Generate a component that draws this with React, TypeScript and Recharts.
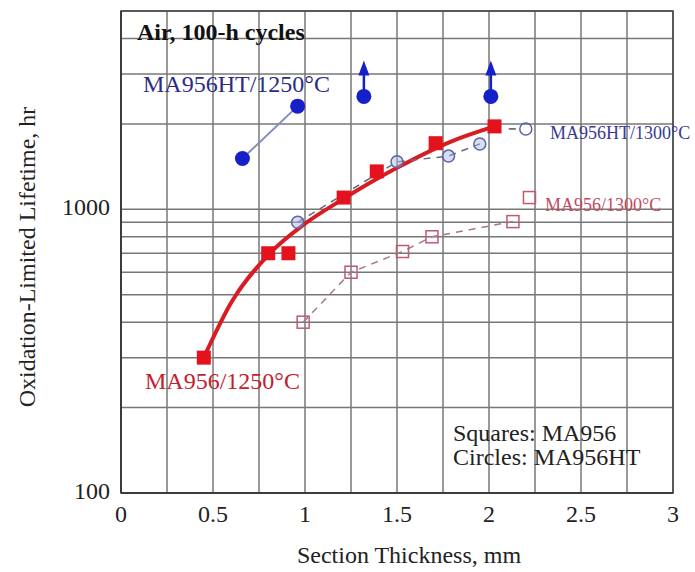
import React from "react";
import { ComposedChart, Scatter, Line, XAxis, YAxis, CartesianGrid, ReferenceArea } from "recharts";

// MA956 at 1250°C (filled squares) and its fitted curve
const ma956At1250X = [0.45, 0.8, 0.91, 1.21, 1.39, 1.71, 2.03];
const ma956At1250Y = [300, 700, 700, 1100, 1360, 1710, 1960];
const fitX = [0.45, 0.6, 0.8, 1.0, 1.2, 1.5, 1.8, 2.03];
const fitY = [300, 470, 690, 890, 1080, 1400, 1740, 1960];

// MA956HT at 1250°C (filled circles); arrows = test still running
const ht1250X = [0.66, 0.96];
const ht1250Y = [1510, 2310];
const ht1250RunningX = [1.32, 2.01];
const ht1250RunningY = [2500, 2500];

// MA956HT at 1300°C (open circles)
const ht1300X = [0.96, 1.5, 1.78, 1.95];
const ht1300Y = [900, 1470, 1540, 1700];

// MA956 at 1300°C (open squares)
const ma956At1300X = [0.99, 1.25, 1.53, 1.69, 2.13];
const ma956At1300Y = [400, 600, 710, 800, 905];

// key markers next to the 1300°C labels
const keyHt1300 = [{ x: 2.2, y: 1920 }];
const keyMa1300 = [{ x: 2.22, y: 1100 }];

const xTicks = [0, 0.25, 0.5, 0.75, 1, 1.25, 1.5, 1.75, 2, 2.25, 2.5, 2.75, 3];
const yTicks = [100, 200, 300, 400, 500, 600, 700, 800, 900, 1000, 2000, 3000, 4000, 5000];
const yMin = 100;
const yMax = 5000;

const zip = (xs: number[], ys: number[]) => xs.map((x, i) => ({ x, y: ys[i] }));

const FONT = "'Liberation Serif', 'Times New Roman', serif";
const RED = "#e3121c";
const BLUE = "#1620c8";
const PINK = "#c25a6e";
const SLATE = "#5a64a8";
const GRID = "#777777";

const filledSquare = (p: any) => (
  <rect x={p.cx - 7} y={p.cy - 7} width={14} height={14} fill={RED} />
);
const openSquare = (p: any) => (
  <rect x={p.cx - 6} y={p.cy - 6} width={12} height={12} fill="none" stroke={PINK} strokeWidth={1.5} />
);
const filledCircle = (p: any) => <circle cx={p.cx} cy={p.cy} r={7.5} fill={BLUE} />;
const openCircle = (p: any) => (
  <circle cx={p.cx} cy={p.cy} r={6} fill="rgba(170,180,225,0.45)" stroke={SLATE} strokeWidth={1.5} />
);
const runningCircle = (p: any) => (
  <g>
    <line x1={p.cx} y1={p.cy} x2={p.cx} y2={p.cy - 24} stroke={BLUE} strokeWidth={2.5} />
    <polygon points={`${p.cx - 5.5},${p.cy - 21} ${p.cx + 5.5},${p.cy - 21} ${p.cx},${p.cy - 36}`} fill={BLUE} />
    <circle cx={p.cx} cy={p.cy} r={7.5} fill={BLUE} />
  </g>
);
const keyCircle = (p: any) => (
  <g>
    <line x1={p.cx - 17} y1={p.cy} x2={p.cx - 10} y2={p.cy} stroke="#555" strokeWidth={1.5} />
    <circle cx={p.cx} cy={p.cy} r={6} fill="none" stroke={SLATE} strokeWidth={1.5} />
  </g>
);

export default function App() {
  const tickStyle = { fontFamily: FONT, fontSize: 24, fill: "#222" };
  return (
    <div style={{ position: "absolute", left: 0, top: 0, width: 695, height: 572, background: "#fff" }}>
      <ComposedChart width={695} height={572} margin={{ top: 11, right: 22, bottom: 0, left: 0 }}>
        <CartesianGrid stroke={GRID} strokeWidth={1.5} horizontalValues={yTicks} />
        <XAxis
          type="number"
          dataKey="x"
          domain={[0, 3]}
          ticks={xTicks}
          interval={0}
          allowDataOverflow
          height={79}
          tickSize={0}
          tickMargin={12}
          tick={tickStyle}
          tickFormatter={(v: number) => ((v * 2) % 1 === 0 ? String(v) : "")}
          stroke="#333"
          strokeWidth={1.5}
        />
        <YAxis
          type="number"
          dataKey="y"
          scale="log"
          domain={[yMin, yMax]}
          ticks={yTicks}
          interval={0}
          allowDataOverflow
          width={121}
          tickSize={0}
          tickMargin={11}
          tick={{ ...tickStyle, dy: -3 }}
          tickFormatter={(v: number) => (v === 100 || v === 1000 ? String(v) : "")}
          stroke="#333"
          strokeWidth={1.5}
        />
        <ReferenceArea x1={0} x2={3} y1={yMin} y2={yMax} fill="none" stroke="#444" strokeWidth={1.5} />

        <Scatter
          data={zip(ma956At1300X, ma956At1300Y)}
          line={{ stroke: "#a87888", strokeWidth: 1.5, strokeDasharray: "7 6" }}
          lineType="joint"
          shape={openSquare}
          isAnimationActive={false}
        />
        <Scatter
          data={zip(ht1300X, ht1300Y)}
          line={{ stroke: "#6a6a78", strokeWidth: 1.5, strokeDasharray: "7 6" }}
          lineType="joint"
          shape={openCircle}
          isAnimationActive={false}
        />
        <Scatter data={keyHt1300} shape={keyCircle} isAnimationActive={false} />
        <Scatter data={keyMa1300} shape={openSquare} isAnimationActive={false} />

        <Line
          data={zip(fitX, fitY)}
          dataKey="y"
          type="monotone"
          stroke="#d81c24"
          strokeWidth={4}
          dot={false}
          isAnimationActive={false}
        />
        <Scatter data={zip(ma956At1250X, ma956At1250Y)} shape={filledSquare} isAnimationActive={false} />

        <Scatter
          data={zip(ht1250X, ht1250Y)}
          line={{ stroke: "#8090bc", strokeWidth: 2 }}
          lineType="joint"
          shape={filledCircle}
          isAnimationActive={false}
        />
        <Scatter data={zip(ht1250RunningX, ht1250RunningY)} shape={runningCircle} isAnimationActive={false} />
      </ComposedChart>

      <svg width={695} height={572} style={{ position: "absolute", left: 0, top: 0, pointerEvents: "none" }}>
        <g fontFamily={FONT}>
          <text x={137} y={40} fontSize={24} fontWeight="bold" fill="#111">Air, 100-h cycles</text>
          <text x={143} y={92} fontSize={24} fill="#2c2c86">MA956HT/1250°C</text>
          <text x={145} y={389} fontSize={24} fill="#c4202c">MA956/1250°C</text>
          <text x={550} y={139} fontSize={18} fill="#3a3a92">MA956HT/1300°C</text>
          <text x={545} y={211} fontSize={18} fill="#c24a60">MA956/1300°C</text>
          <text x={453} y={441} fontSize={24} fill="#222">Squares: MA956</text>
          <text x={453} y={465} fontSize={24} fill="#222">Circles: MA956HT</text>
          <text x={409} y={563} fontSize={24} fill="#222" textAnchor="middle">Section Thickness, mm</text>
          <text x={35} y={257} fontSize={24} fill="#222" textAnchor="middle" transform="rotate(-90 35 257)">
            Oxidation-Limited Lifetime, hr
          </text>
        </g>
      </svg>
    </div>
  );
}
